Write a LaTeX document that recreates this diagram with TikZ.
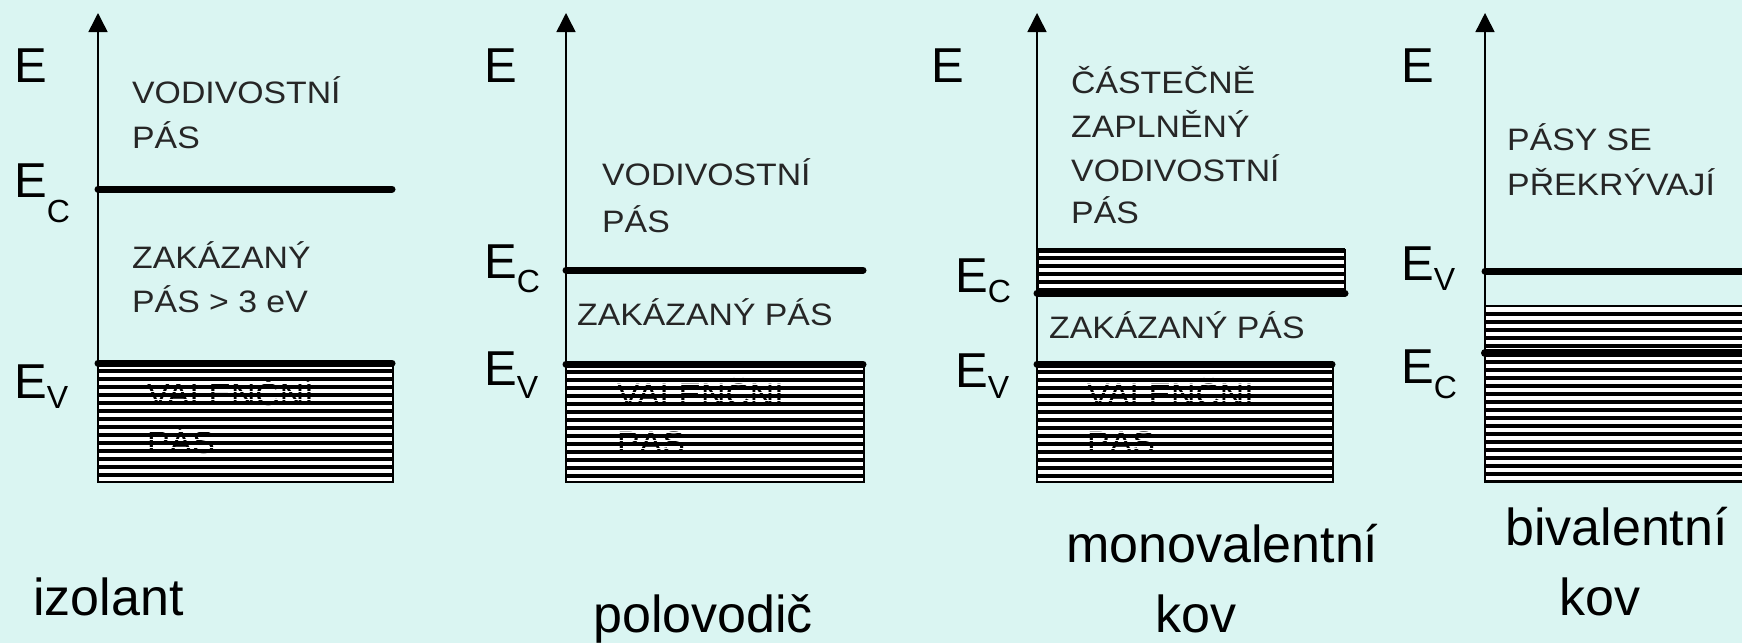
\documentclass[tikz,border=0pt]{standalone}
\usepackage{fontspec}
\setmainfont{Liberation Sans}
\newfontfamily\bandfont[FakeStretch=1.09]{Liberation Sans}
\usetikzlibrary{arrows.meta}

\definecolor{paper}{RGB}{218,245,242}

% energy level label with a dropped subscript
\newcommand{\Elev}[2]{E\raisebox{-#2pt}{\fontsize{32}{32}\selectfont #1}}

% horizontal hatching of a band, clipped to the box
\newcommand{\hatch}[4]{%
  \begin{scope}
    \clip (#1,#2) rectangle (#3,#4);
    \foreach \dy in {0,8,...,240} {
      \draw[gapline] (#1,#2+\dy+4) -- (#3,#2+\dy+4);
      \draw[hatchline] (#1,#2+\dy+8) -- (#3,#2+\dy+8);
    }
  \end{scope}
  \draw[boxline] (#1,#2) rectangle (#3,#4);
}

\begin{document}
\begin{tikzpicture}[
    x=1pt, y=-1pt,
    axis/.style={line width=1.5pt, -{Triangle[width=19pt,length=19pt]}},
    level/.style={line width=7pt, line cap=round},
    hatchline/.style={line width=3.6pt},
    gapline/.style={white, line width=1pt},
    boxline/.style={line width=2.5pt},
    energy/.style={anchor=base west, inner sep=0pt, font=\fontsize{49}{49}\selectfont},
    bandtxt/.style={anchor=base west, inner sep=0pt, text=black!85, font=\bandfont\fontsize{31}{31}\selectfont},
    kind/.style={anchor=base west, inner sep=0pt, font=\fontsize{52}{52}\selectfont}
]
    \useasboundingbox (0,0) rectangle (1742,643);
    \fill[paper] (0,0) rectangle (1742,643);

    % izolant
    \fill[white] (98,363) rectangle (393,482);
    \node[bandtxt, text=black] (val1) at (147,405) {VALENČNÍ};
    \node[bandtxt, text=black] (val1b) at ([yshift=-48pt]val1.base west) {PÁS};
    \hatch{98}{363}{393}{482}
    \draw[axis] (98,482) -- (98,13);
    \draw[level] (98,189) -- (392,189);
    \draw[level] (98,363) -- (392,363);
    \node[energy] (e1) at (14,82) {E};
    \node[energy] (ec1) at (14,197) {\Elev{C}{25}};
    \node[energy] (ev1) at (14,398) {\Elev{V}{10}};
    \node[bandtxt] (cb1) at (132,103) {VODIVOSTNÍ};
    \node[bandtxt] (cb1b) at ([yshift=-45pt]cb1.base west) {PÁS};
    \node[bandtxt] (gap1) at (132,268) {ZAKÁZANÝ};
    \node[bandtxt] (gap1b) at ([yshift=-44pt]gap1.base west) {PÁS > 3 eV};
    \node[kind] (izolant) at (33,615) {izolant};

    % polovodic
    \fill[white] (566,364) rectangle (864,482);
    \node[bandtxt, text=black] (val2) at (617,405) {VALENČNÍ};
    \node[bandtxt, text=black] (val2b) at ([yshift=-48pt]val2.base west) {PÁS};
    \hatch{566}{364}{864}{482}
    \draw[axis] (566,482) -- (566,13);
    \draw[level] (566,270) -- (863,270);
    \draw[level] (566,364) -- (863,364);
    \node[energy] (e2) at (484,82) {E};
    \node[energy] (ec2) at (484,278) {\Elev{C}{14}};
    \node[energy] (ev2) at (484,385) {\Elev{V}{13}};
    \node[bandtxt] (cb2) at (602,185) {VODIVOSTNÍ};
    \node[bandtxt] (cb2b) at ([yshift=-47pt]cb2.base west) {PÁS};
    \node[bandtxt] (gap2) at (577,325) {ZAKÁZANÝ PÁS};
    \node[kind] (polovodic) at (593,632) {polovodič};

    % monovalentni kov
    \fill[white] (1038,250) rectangle (1345,293);
    \hatch{1038}{250}{1345}{293}
    \fill[white] (1037,364) rectangle (1333,482);
    \node[bandtxt, text=black] (val3) at (1087,405) {VALENČNÍ};
    \node[bandtxt, text=black] (val3b) at ([yshift=-48pt]val3.base west) {PÁS};
    \hatch{1037}{364}{1333}{482}
    \draw[axis] (1037,482) -- (1037,13);
    \draw[line width=5pt] (1038,250) -- (1345,250);
    \draw[level] (1037,293) -- (1345,293);
    \draw[level] (1037,364) -- (1332,364);
    \node[energy] (e3) at (931,82) {E};
    \node[energy] (ec3) at (955,292) {\Elev{C}{10}};
    \node[energy] (ev3) at (955,387) {\Elev{V}{11}};
    \node[bandtxt] (cb3) at (1071,93) {ČÁSTEČNĚ};
    \node[bandtxt] (cb3b) at ([yshift=-44pt]cb3.base west) {ZAPLNĚNÝ};
    \node[bandtxt] (cb3c) at ([yshift=-44pt]cb3b.base west) {VODIVOSTNÍ};
    \node[bandtxt] (cb3d) at ([yshift=-42pt]cb3c.base west) {PÁS};
    \node[bandtxt] (gap3) at (1049,338) {ZAKÁZANÝ PÁS};
    \node[kind] (mono) at (1066,562) {monovalentní};
    \node[kind] (kov3) at (1155,632) {kov};

    % bivalentni kov
    \fill[white] (1485,306) rectangle (1760,482);
    \hatch{1485}{306}{1760}{482}
    \draw[axis] (1485,482) -- (1485,13);
    \draw[level] (1485,271) -- (1760,271);
    \draw[level, line width=8pt] (1485,353) -- (1760,353);
    \node[energy] (e4) at (1401,82) {E};
    \node[energy] (ev4) at (1401,280) {\Elev{V}{10}};
    \node[energy] (ec4) at (1401,383) {\Elev{C}{15}};
    \node[bandtxt] (ov4) at (1507,150) {PÁSY SE};
    \node[bandtxt] (ov4b) at ([yshift=-45pt]ov4.base west) {PŘEKRÝVAJÍ};
    \node[kind] (biv) at (1505,545) {bivalentní};
    \node[kind] (kov4) at (1559,615) {kov};
\end{tikzpicture}
\end{document}
